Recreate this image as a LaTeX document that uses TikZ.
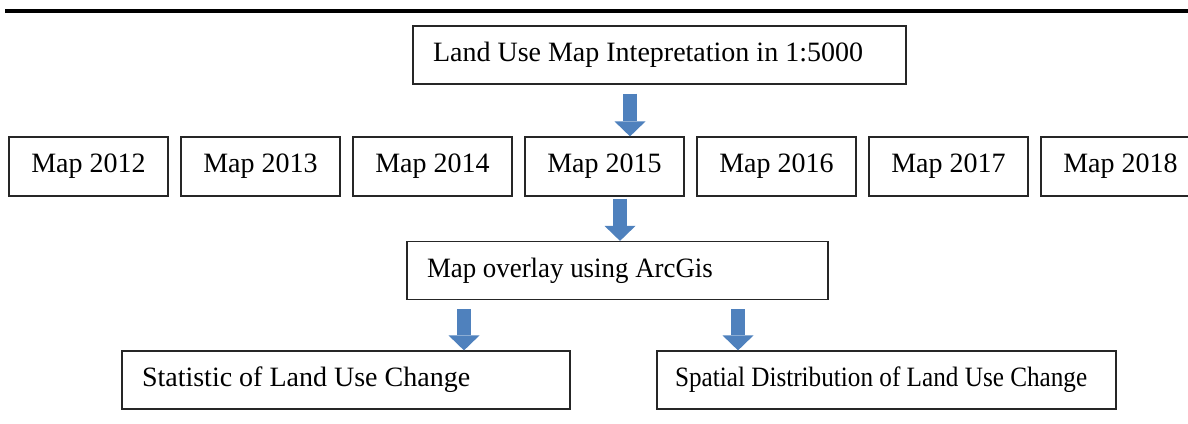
\documentclass[tikz,border=0pt]{standalone}
\usepackage{fontspec}
\setmainfont{Liberation Serif}
\newfontfamily\slimfont[FakeStretch=0.9]{Liberation Serif}
\newfontfamily\halfslimfont[FakeStretch=0.96]{Liberation Serif}
\usepackage{tikz}
\usetikzlibrary{arrows.meta,positioning}
\definecolor{arrowblue}{HTML}{4F81BD}
\newcommand\boxtext[1]{\mbox{\spaceskip=0pt\xspaceskip=0pt #1}}

\begin{document}
\begin{tikzpicture}[font=\fontsize{14pt}{17pt}\selectfont,
   box/.style={draw=black!85,line width=0.6pt,minimum height=29pt,inner xsep=10pt,align=left},
   mapbox/.style={draw=black!85,line width=0.6pt,minimum width=79.5pt,minimum height=29.5pt,align=center},
   blockarrow/.style={draw=arrowblue,line width=7pt,
             -{Triangle[width=15.5pt,length=7.5pt,line width=0pt,fill=arrowblue]}}]
  \useasboundingbox (0,0) rectangle (594pt,-211.5pt);
  % top rule
  \coordinate (ruleL) at (2.5pt,-5.5pt);
  \coordinate (ruleR) at (594pt,-5.5pt);
  \draw[line width=2pt] (ruleL) -- (ruleR);
  % boxes
  \node[box,text width=226.5pt] (interp) at (329.75pt,-27.5pt) {\boxtext{Land Use Map Intepretation in 1:5000}};
  \node[mapbox] (m2012) at (44.25pt,-83.25pt) {Map 2012};
  \foreach \y in {2013,...,2018}{
     \pgfmathtruncatemacro\prev{\y-1}
     \node[mapbox,right=5.9pt of m\prev] (m\y) {Map \y};
  }
  \node[box,text width=190.5pt] (overlay) at (308.75pt,-135.25pt) {\boxtext{\halfslimfont Map overlay using ArcGis}};
  \node[box,text width=204pt] (stat) at (173pt,-190pt) {\boxtext{Statistic of Land Use Change}};
  \node[box,text width=211.5pt,inner xsep=9pt] (spatial) at (443.25pt,-190pt) {\boxtext{\slimfont Spatial Distribution of Land Use Change}};
  % arrows
  \coordinate (a1) at ([xshift=-14.75pt,yshift=-4.5pt]interp.south);
  \coordinate (a2) at ([xshift=7.75pt,yshift=-1pt]m2015.south);
  \coordinate (a3) at ([xshift=-76.75pt,yshift=-4.5pt]overlay.south);
  \coordinate (a4) at ([xshift=60.25pt,yshift=-4.5pt]overlay.south);
  \draw[blockarrow] (a1) -- (a1 |- m2015.north);
  \draw[blockarrow] (a2) -- (a2 |- overlay.north);
  \draw[blockarrow] (a3) -- (a3 |- stat.north);
  \draw[blockarrow] (a4) -- (a4 |- spatial.north);
\end{tikzpicture}
\end{document}
